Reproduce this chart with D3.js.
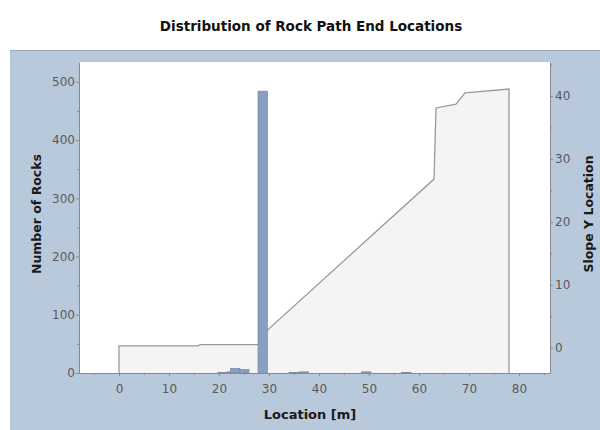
<!DOCTYPE html>
<html>
<head>
<meta charset="utf-8">
<script src="https://cdn.jsdelivr.net/npm/d3@7"></script>
<style>
  body { margin: 0; background: #fff; }
  svg { display: block; font-family: "DejaVu Sans", Verdana, sans-serif; }
</style>
</head>
<body>
<svg id="chart" width="600" height="430"></svg>
<script>
// ---- data ----
const chartTitle = "Distribution of Rock Path End Locations";
const xTitle = "Location [m]";
const yLeftTitle = "Number of Rocks";
const yRightTitle = "Slope Y Location";

// histogram bins: left edge [m] and count
const binStarts = [19.8, 21.7, 22.3, 24.1, 27.8, 34.0, 36.0, 48.5, 56.5];
const binCounts = [1, 2, 8, 6, 484, 1, 2, 2, 1];
const binWidth = 1.9;

// slope profile: location [m] and slope Y location
const profileX = [0, 15.8, 16.2, 27.8, 29.8, 63.0, 63.4, 67.4, 69.2, 78.0];
const profileY = [0.3, 0.3, 0.5, 0.5, 2.9, 26.8, 38.1, 38.7, 40.5, 41.1];

const xTicks = [0, 10, 20, 30, 40, 50, 60, 70, 80];
const yLeftTicks = [0, 100, 200, 300, 400, 500];
const yRightTicks = [0, 10, 20, 30, 40];

// ---- layout ----
const svg = d3.select("#chart");
const L = 79, R = 550, T = 62, B = 373;

svg.append("rect").attr("x", 10).attr("y", 50).attr("width", 590).attr("height", 380)
  .attr("fill", "#b9c9dc");
svg.append("line").attr("x1", 10).attr("x2", 600).attr("y1", 50.5).attr("y2", 50.5)
  .attr("stroke", "#9aa9bb").attr("stroke-width", 1);
svg.append("rect").attr("x", L).attr("y", T).attr("width", R - L).attr("height", B - T)
  .attr("fill", "#ffffff");

svg.append("text").attr("x", 311).attr("y", 31).attr("text-anchor", "middle")
  .attr("font-size", 13.5).attr("font-weight", "bold").attr("fill", "#111")
  .text(chartTitle);

const x = d3.scaleLinear().domain([-8, 86.2]).range([L, R]);
const yL = d3.scaleLinear().domain([0, 534]).range([B, T]);
const yR = d3.scaleLinear().domain([-4, 45.4]).range([B, T]);

// slope profile area
const pts = profileX.map((v, i) => [v, profileY[i]]);
const area = d3.area().x(d => x(d[0])).y0(yR(-4)).y1(d => yR(d[1]));
svg.append("path").datum(pts).attr("d", area).attr("fill", "#f4f4f4");
const outline = [[profileX[0], -4]].concat(pts, [[profileX[profileX.length - 1], -4]]);
svg.append("path").datum(outline)
  .attr("d", d3.line().x(d => x(d[0])).y(d => yR(d[1])))
  .attr("fill", "none").attr("stroke", "#9a9a9a").attr("stroke-width", 1.3);

// histogram
svg.append("g").selectAll("rect").data(binStarts).join("rect")
  .attr("x", d => x(d))
  .attr("width", d => x(d + binWidth) - x(d))
  .attr("y", (d, i) => yL(binCounts[i]))
  .attr("height", (d, i) => B - yL(binCounts[i]))
  .attr("fill", "#8c9ec0").attr("stroke", "#6f81a4").attr("stroke-width", 0.6);

// axes
const tickColor = "#8a8a8a";
function style(g) {
  g.selectAll(".domain").attr("stroke", tickColor);
  g.selectAll(".tick line").attr("stroke", tickColor);
  g.selectAll(".tick text").attr("fill", "#5a5a5a").attr("font-size", 12)
    .attr("font-family", "DejaVu Sans, Verdana, sans-serif");
}
const xMinor = d3.range(-5, 86, 5);
svg.append("g").attr("transform", `translate(0,${B})`)
  .call(d3.axisBottom(x).tickValues(xMinor).tickSize(2).tickFormat(""))
  .call(g => g.select(".domain").remove())
  .selectAll("line").attr("stroke", tickColor);
svg.append("g").attr("transform", `translate(0,${B})`)
  .call(d3.axisBottom(x).tickValues(xTicks).tickSize(3).tickSizeOuter(0).tickPadding(8))
  .call(style);

svg.append("g").attr("transform", `translate(${L},0)`)
  .call(d3.axisLeft(yL).tickValues(d3.range(50, 534, 100)).tickSize(2).tickFormat(""))
  .call(g => g.select(".domain").remove())
  .selectAll("line").attr("stroke", tickColor);
svg.append("g").attr("transform", `translate(${L},0)`)
  .call(d3.axisLeft(yL).tickValues(yLeftTicks).tickSize(3).tickSizeOuter(0).tickPadding(1))
  .call(style);

svg.append("g").attr("transform", `translate(${R},0)`)
  .call(d3.axisRight(yR).tickValues([5, 15, 25, 35, 45]).tickSize(2).tickFormat(""))
  .call(g => g.select(".domain").remove())
  .selectAll("line").attr("stroke", tickColor);
svg.append("g").attr("transform", `translate(${R},0)`)
  .call(d3.axisRight(yR).tickValues(yRightTicks).tickSize(3).tickSizeOuter(0).tickPadding(2))
  .call(style);

// axis titles
svg.append("text").attr("x", 310).attr("y", 419).attr("text-anchor", "middle")
  .attr("font-size", 13).attr("font-weight", "bold").attr("fill", "#1a1a1a").text(xTitle);
svg.append("text").attr("transform", `translate(41,214) rotate(-90)`)
  .attr("text-anchor", "middle").attr("font-size", 12.5).attr("font-weight", "bold")
  .attr("fill", "#1a1a1a").text(yLeftTitle);
svg.append("text").attr("transform", `translate(593,214) rotate(-90)`)
  .attr("text-anchor", "middle").attr("font-size", 12.5).attr("font-weight", "bold")
  .attr("fill", "#1a1a1a").text(yRightTitle);
</script>
</body>
</html>
